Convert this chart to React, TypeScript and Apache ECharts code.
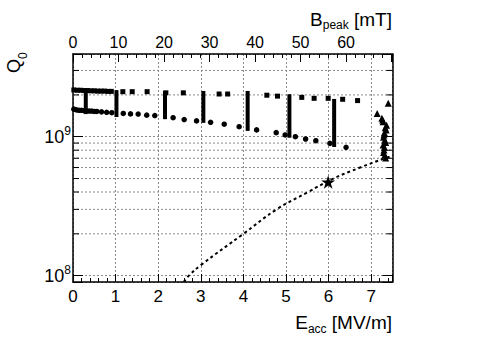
import React, { useEffect, useRef } from 'react';
import * as echarts from 'echarts';

// ---- data ----
const SQUARE_E = [0.02, 0.1, 0.18, 0.26, 0.34, 0.42, 0.5, 0.58, 0.66, 0.74, 0.82, 0.9, 1.17, 1.39, 1.74, 2.18, 2.59, 3.43, 3.63, 4.55, 4.8, 5.37, 5.66, 5.99, 6.33, 6.68];
const SQUARE_Q = [2.17e9, 2.16e9, 2.16e9, 2.15e9, 2.15e9, 2.14e9, 2.14e9, 2.13e9, 2.13e9, 2.13e9, 2.12e9, 2.12e9, 2.11e9, 2.11e9, 2.11e9, 2.07e9, 2.07e9, 2.03e9, 2.03e9, 1.99e9, 1.96e9, 1.92e9, 1.89e9, 1.89e9, 1.86e9, 1.82e9];

const CIRCLE_E = [0.02, 0.08, 0.14, 0.2, 0.26, 0.32, 0.38, 0.44, 0.5, 0.56, 0.67, 0.79, 0.91, 1.18, 1.35, 1.53, 1.73, 1.92, 2.35, 2.61, 2.9, 3.23, 3.55, 3.9, 4.31, 4.77, 4.98, 5.22, 5.46, 5.7, 6.03, 6.41];
const CIRCLE_Q = [1.58e9, 1.56e9, 1.55e9, 1.55e9, 1.54e9, 1.54e9, 1.53e9, 1.53e9, 1.52e9, 1.52e9, 1.51e9, 1.5e9, 1.49e9, 1.47e9, 1.46e9, 1.456e9, 1.43e9, 1.42e9, 1.37e9, 1.33e9, 1.3e9, 1.27e9, 1.23e9, 1.18e9, 1.12e9, 1.07e9, 1.03e9, 1.0e9, 9.63e8, 9.36e8, 8.96e8, 8.39e8];

const STEM_E = [0.3, 1.02, 2.16, 3.06, 4.1, 5.08, 6.13];
const STEM_Q_TOP = [2.13e9, 2.13e9, 2.1e9, 2.1e9, 2.1e9, 1.99e9, 1.84e9];
const STEM_Q_BOTTOM = [1.48e9, 1.41e9, 1.36e9, 1.28e9, 1.12e9, 1.0e9, 8.58e8];

const TRIANGLE_E = [7.4, 7.14, 7.25, 7.27, 7.28, 7.36, 7.33, 7.35, 7.31, 7.3, 7.29, 7.32, 7.34, 7.28, 7.31, 7.3, 7.29, 7.32, 7.34];
const TRIANGLE_Q = [1.74e9, 1.47e9, 1.36e9, 1.32e9, 1.28e9, 1.21e9, 1.16e9, 1.12e9, 1.07e9, 1.03e9, 9.9e8, 9.47e8, 9.1e8, 8.71e8, 8.4e8, 8.02e8, 7.7e8, 7.38e8, 7.03e8];

const STAR_E = [5.99];
const STAR_Q = [4.72e8];

const CURVE_E = [2.6, 2.72, 3.0, 4.0, 4.78, 5.52, 6.11, 6.74, 7.32, 7.45];
const CURVE_Q = [9.0e7, 1.0e8, 1.19e8, 2.0e8, 3.0e8, 4.0e8, 5.0e8, 6.0e8, 7.0e8, 7.2e8];

const Y_MINOR = [2e8, 3e8, 4e8, 5e8, 6e8, 7e8, 8e8, 9e8, 2e9, 3e9];

const E_MIN = 0;
const E_MAX = 7.5;
const B_MIN = 0;
const B_MAX = 70.2;
const B_LABELS = [0, 10, 20, 30, 40, 50, 60];
const Q_MIN = 9.0e7;
const Q_MAX = 3.94e9;

const FONT = "'Liberation Sans', Arial, Helvetica, sans-serif";

const zip = (a: number[], b: number[]) => a.map((v, i) => [v, b[i]]);

export default function App() {
  const ref = useRef<HTMLDivElement>(null);

  useEffect(() => {
    const chart = echarts.init(ref.current!, null, { renderer: 'svg' });

    const gridLine = { color: '#8a8a8a', width: 1, type: [2, 2] as any };

    const yLabelFmt = (v: number) => {
      const l = Math.log10(v);
      const r = Math.round(l);
      if (Math.abs(l - r) < 1e-6) return `{b|10}{s|${r}}`;
      return '';
    };

    const marker = { color: '#000', opacity: 1 };

    const option: any = {
      animation: false,
      backgroundColor: '#ffffff',
      textStyle: { fontFamily: FONT, color: '#000' },
      grid: { left: 73, top: 54, right: 98.5, bottom: 71, containLabel: false },
      xAxis: [
        {
          type: 'value',
          position: 'bottom',
          min: E_MIN,
          max: E_MAX,
          interval: 1,
          axisLine: { show: true, onZero: false, lineStyle: { color: '#000', width: 1.5 } },
          axisTick: { show: true, inside: true, length: 8, lineStyle: { color: '#000', width: 1 } },
          minorTick: { show: true, splitNumber: 5, length: 4, lineStyle: { color: '#000', width: 1 } },
          splitLine: { show: true, lineStyle: gridLine },
          axisLabel: {
            fontSize: 17,
            fontFamily: FONT,
            color: '#000',
            margin: 6,
            formatter: (v: number) => (Number.isInteger(v) ? String(v) : ''),
          },
        },
        {
          type: 'value',
          position: 'top',
          min: B_MIN,
          max: B_MAX,
          interval: 10,
          axisLine: { show: true, onZero: false, lineStyle: { color: '#000', width: 1.5 } },
          axisTick: { show: true, inside: true, length: 8, lineStyle: { color: '#000', width: 1 } },
          minorTick: { show: true, splitNumber: 5, length: 4, lineStyle: { color: '#000', width: 1 } },
          splitLine: { show: false },
          axisLabel: {
            fontSize: 16,
            fontFamily: FONT,
            color: '#000',
            margin: 4,
            formatter: (v: number) => (B_LABELS.indexOf(v) >= 0 ? String(v) : ''),
          },
        },
      ],
      yAxis: [
        {
          type: 'log',
          logBase: 10,
          position: 'left',
          min: Q_MIN,
          max: Q_MAX,
          axisLine: { show: true, onZero: false, lineStyle: { color: '#000', width: 1.5 } },
          axisTick: { show: true, inside: true, length: 10, lineStyle: { color: '#000', width: 1 } },
          minorTick: { show: false },
          splitLine: { show: true, lineStyle: gridLine },
          axisLabel: {
            margin: 2,
            color: '#000',
            formatter: yLabelFmt,
            rich: {
              b: { fontSize: 18, fontFamily: FONT, color: '#000', lineHeight: 24 },
              s: { fontSize: 12, fontFamily: FONT, color: '#000', lineHeight: 12, verticalAlign: 'top' },
            },
          },
        },
        {
          type: 'log',
          logBase: 10,
          position: 'right',
          min: Q_MIN,
          max: Q_MAX,
          axisLine: { show: true, onZero: false, lineStyle: { color: '#000', width: 1.5 } },
          axisTick: { show: true, inside: true, length: 10, lineStyle: { color: '#000', width: 1 } },
          splitLine: { show: false },
          axisLabel: { show: false },
        },
      ],
      graphic: [
        {
          type: 'text',
          x: 392,
          y: 19,
          style: {
            text: '{n|B}{s|peak}{n| [mT]}',
            align: 'right',
            verticalAlign: 'middle',
            fill: '#000',
            rich: {
              n: { fontSize: 19, fontFamily: FONT, lineHeight: 24, fill: '#000' },
              s: { fontSize: 12, fontFamily: FONT, lineHeight: 12, verticalAlign: 'bottom', fill: '#000' },
            },
          },
        },
        {
          type: 'text',
          x: 392,
          y: 322,
          style: {
            text: '{n|E}{s|acc}{n| [MV/m]}',
            align: 'right',
            verticalAlign: 'middle',
            fill: '#000',
            rich: {
              n: { fontSize: 19, fontFamily: FONT, lineHeight: 26, fill: '#000' },
              s: { fontSize: 12, fontFamily: FONT, lineHeight: 12, verticalAlign: 'bottom', fill: '#000' },
            },
          },
        },
        {
          type: 'text',
          x: 14,
          y: 73,
          rotation: Math.PI / 2,
          style: {
            text: '{q|Q}{s|0}',
            align: 'left',
            verticalAlign: 'middle',
            fill: '#000',
            rich: {
              q: { fontSize: 18, fontFamily: FONT, lineHeight: 30, fill: '#000' },
              s: { fontSize: 12, fontFamily: FONT, lineHeight: 12, verticalAlign: 'bottom', fill: '#000' },
            },
          },
        },
      ],
      series: [
        {
          name: 'minor grid',
          type: 'custom',
          xAxisIndex: 0,
          yAxisIndex: 0,
          z: 1,
          silent: true,
          data: Y_MINOR.map((q) => [E_MIN, q]),
          renderItem: (params: any, api: any) => {
            const cs = params.coordSys;
            const p = api.coord([E_MIN, api.value(1)]);
            const y = p[1];
            const x0 = cs.x;
            const x1 = cs.x + cs.width;
            return {
              type: 'group',
              children: [
                { type: 'line', shape: { x1: x0, y1: y, x2: x1, y2: y }, style: { stroke: '#8a8a8a', lineWidth: 1, lineDash: [2, 2] } },
                { type: 'line', shape: { x1: x0, y1: y, x2: x0 + 6, y2: y }, style: { stroke: '#000', lineWidth: 1 } },
                { type: 'line', shape: { x1: x1 - 6, y1: y, x2: x1, y2: y }, style: { stroke: '#000', lineWidth: 1 } },
              ],
            };
          },
        },
        {
          name: 'fit',
          type: 'line',
          xAxisIndex: 0,
          yAxisIndex: 0,
          z: 3,
          data: zip(CURVE_E, CURVE_Q),
          smooth: 0.4,
          showSymbol: false,
          symbol: 'none',
          lineStyle: { color: '#000', width: 2, type: [3, 3] },
        },
        {
          name: 'stems',
          type: 'custom',
          xAxisIndex: 0,
          yAxisIndex: 0,
          z: 4,
          data: STEM_E.map((e, i) => [e, STEM_Q_TOP[i], STEM_Q_BOTTOM[i]]),
          encode: { x: 0, y: [1, 2] },
          renderItem: (params: any, api: any) => {
            const top = api.coord([api.value(0), api.value(1)]);
            const bot = api.coord([api.value(0), api.value(2)]);
            return {
              type: 'rect',
              shape: { x: top[0] - 2, y: top[1] - 1, width: 4, height: bot[1] - top[1] + 2 },
              style: { fill: '#000' },
            };
          },
        },
        {
          name: 'squares',
          type: 'scatter',
          z: 5,
          data: zip(SQUARE_E, SQUARE_Q),
          symbol: 'rect',
          symbolSize: 5,
          itemStyle: marker,
        },
        {
          name: 'circles',
          type: 'scatter',
          z: 5,
          data: zip(CIRCLE_E, CIRCLE_Q),
          symbol: 'circle',
          symbolSize: 5.5,
          itemStyle: marker,
        },
        {
          name: 'triangles',
          type: 'scatter',
          z: 5,
          data: zip(TRIANGLE_E, TRIANGLE_Q),
          symbol: 'triangle',
          symbolSize: 7,
          itemStyle: marker,
        },
        {
          name: 'star',
          type: 'scatter',
          z: 6,
          data: zip(STAR_E, STAR_Q),
          symbol: 'path://M50,0 L61.2,34.5 L97.6,34.5 L68.2,55.9 L79.4,90.5 L50,69.1 L20.6,90.5 L31.8,55.9 L2.4,34.5 L38.8,34.5 Z',
          symbolKeepAspect: true,
          symbolSize: 14,
          itemStyle: marker,
        },
      ],
    };

    chart.setOption(option);
    return () => chart.dispose();
  }, []);

  return <div ref={ref} style={{ position: 'absolute', left: 0, top: 0, width: 491, height: 353 }} />;
}
